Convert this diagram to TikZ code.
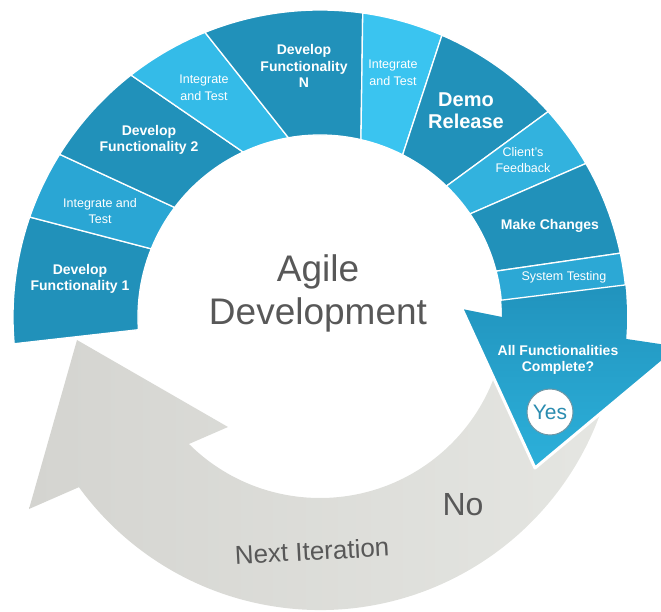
\documentclass[tikz,border=0pt]{standalone}
\usepackage{fontspec}
\setmainfont{Liberation Sans}
\usepackage{tikz}

\definecolor{segdark}{RGB}{33,145,186}
\definecolor{segone}{RGB}{42,166,212}
\definecolor{segtwo}{RGB}{52,187,232}
\definecolor{segthree}{RGB}{58,196,240}
\definecolor{segfeed}{RGB}{50,178,222}
\definecolor{segtest}{RGB}{44,168,213}
\definecolor{aftop}{RGB}{33,147,189}
\definecolor{afbot}{RGB}{44,176,218}
\definecolor{greyleft}{RGB}{212,212,208}
\definecolor{greyright}{RGB}{229,230,226}
\definecolor{textgrey}{RGB}{88,88,88}
\definecolor{yesblue}{RGB}{42,140,176}

\tikzset{
  seg/.style={draw=white, line width=1.3, line join=round},
  boldlbl/.style={text=white, font=\bfseries\fontsize{14}{16.5}\selectfont, align=center},
  thinlbl/.style={text=white, font=\fontsize{12.5}{16.5}\selectfont, align=center},
}

\begin{document}
\begin{tikzpicture}[x=1pt,y=1pt,yscale=-1]
    \useasboundingbox (0,0) rectangle (661,612);

    %Shape: Curved Arrow
    \shade [left color=greyleft, right color=greyright] (613.47,363.75) arc[start angle=10, end angle=144, radius=298] -- (29,509) -- (77,340) -- (228,427) -- (188.94,443.98) arc[start angle=134.8, end angle=10, radius=186] -- cycle ;

    %Shape: Arrow Segment
    \shade [top color=aftop, bottom color=afbot] (625.32,284.91) arc[start angle=-6, end angle=4.1, radius=307] -- (680,347) -- (535,468) -- (462,309) -- (502,317) arc[start angle=0, end angle=-5.3, radius=182] -- cycle ;
    \draw [white, line width=3, line join=round] (680,347) -- (535,468) -- (462,309) ;

    %Shape: Ring Segment
    \draw [seg, fill=segdark] (14.17,343.76) arc[start angle=-185, end angle=-161, radius=307] -- (151.25,248.82) arc[start angle=-158, end angle=-184, radius=182] -- cycle ;
    %Shape: Ring Segment
    \draw [seg, fill=segone] (29.73,217.05) arc[start angle=-161, end angle=-148, radius=307] -- (174.65,207.47) arc[start angle=-143, end angle=-158, radius=182] -- cycle ;
    %Shape: Ring Segment
    \draw [seg, fill=segdark] (59.65,154.31) arc[start angle=-148, end angle=-128, radius=307] -- (243.08,152.05) arc[start angle=-115, end angle=-143, radius=182] -- cycle ;
    %Shape: Ring Segment
    \draw [seg, fill=segtwo] (130.99,75.08) arc[start angle=-128, end angle=-112, radius=307] -- (288.40,137.76) arc[start angle=-100, end angle=-115, radius=182] -- cycle ;
    %Shape: Ring Segment
    \draw [seg, fill=segdark] (204.99,32.36) arc[start angle=-112, end angle=-82, radius=307] -- (360.94,139.66) arc[start angle=-77, end angle=-100, radius=182] -- cycle ;
    %Shape: Ring Segment
    \draw [seg, fill=segthree] (362.73,12.99) arc[start angle=-82, end angle=-66.6, radius=307] -- (402.63,154.84) arc[start angle=-63, end angle=-77, radius=182] -- cycle ;
    %Shape: Ring Segment
    \draw [seg, fill=segdark] (441.92,35.25) arc[start angle=-66.6, end angle=-42, radius=307] -- (446.43,186.08) arc[start angle=-46, end angle=-63, radius=182] -- cycle ;
    %Shape: Ring Segment
    \draw [seg, fill=segfeed] (548.14,111.58) arc[start angle=-42, end angle=-30, radius=307] -- (469.99,213.91) arc[start angle=-34.5, end angle=-46, radius=182] -- cycle ;
    %Shape: Ring Segment
    \draw [seg, fill=segdark] (585.87,163.5) arc[start angle=-30, end angle=-12, radius=307] -- (496.12,271.12) arc[start angle=-14.6, end angle=-34.5, radius=182] -- cycle ;
    %Shape: Ring Segment
    \draw [seg, fill=segtest] (620.29,253.17) arc[start angle=-12, end angle=-6, radius=307] -- (501.22,300.19) arc[start angle=-5.3, end angle=-14.6, radius=182] -- cycle ;

    % Text Node
    \draw (80,279) node [boldlbl] (devone) {Develop\\Functionality 1};
    % Text Node
    \draw (100,211) node [thinlbl] (intone) {Integrate and\\Test};
    % Text Node
    \draw (149,140) node [boldlbl] (devtwo) {Develop\\Functionality 2};
    % Text Node
    \draw (204,88) node [thinlbl] (inttwo) {Integrate\\and Test};
    % Text Node
    \draw (304,66) node [boldlbl] (devn) {Develop\\Functionality\\N};
    % Text Node
    \draw (393,73) node [thinlbl] (intthree) {Integrate\\and Test};
    % Text Node
    \draw (466,111) node [boldlbl, font=\bfseries\fontsize{20}{22}\selectfont] (demo) {Demo\\Release};
    % Text Node
    \draw (523,160) node [thinlbl] (feedback) {Client's\\Feedback};
    % Text Node
    \draw (550,226) node [boldlbl] (changes) {Make Changes};
    % Text Node
    \draw (564,277) node [thinlbl] (systest) {System Testing};
    % Text Node
    \draw (558,360) node [boldlbl, font=\bfseries\fontsize{14}{16}\selectfont] (allfunc) {All Functionalities\\Complete?};
    % Text Node
    \draw (550,412) node [circle, minimum size=46, inner sep=0, fill=white, draw={rgb, 255:red, 110; green, 150; blue, 165 }, line width=1, text=yesblue, font=\fontsize{21}{24}\selectfont] (yes) {Yes};
    % Text Node
    \draw (318,281) node [anchor=base, text=textgrey, font=\fontsize{37}{43}\selectfont] (agile) {Agile};
    % Text Node
    \draw (318,324) node [anchor=base, text=textgrey, font=\fontsize{37}{43}\selectfont] (agiledev) {Development};
    % Text Node
    \draw (463,505) node [text=textgrey, font=\fontsize{32}{36}\selectfont] (no) {No};
    % Text Node
    \draw (312,551) node [rotate=3, text=textgrey, font=\fontsize{26}{30}\selectfont] (nextiter) {Next Iteration};

\end{tikzpicture}
\end{document}
